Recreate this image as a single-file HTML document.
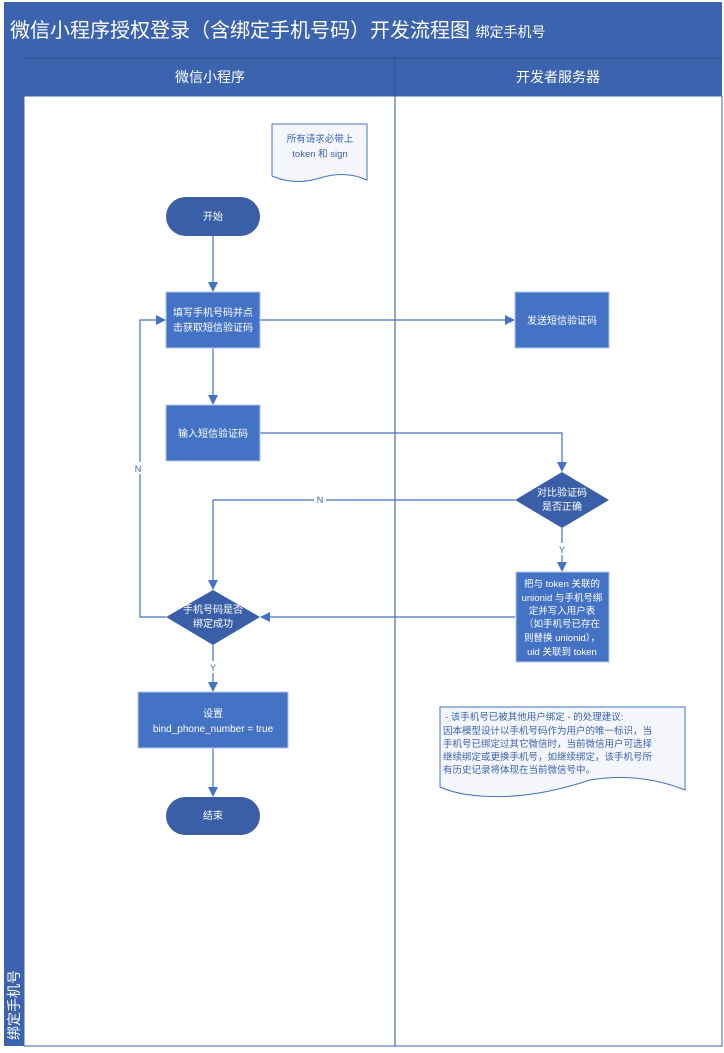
<!DOCTYPE html>
<html><head><meta charset="utf-8"><style>
html,body{margin:0;padding:0;background:#fff}
svg{display:block}
text{font-family:"Liberation Sans","Noto Sans CJK SC",sans-serif}
</style></head><body>
<svg width="724" height="1053" viewBox="0 0 724 1053" xmlns="http://www.w3.org/2000/svg">
<defs>
<marker id="a" markerWidth="10" markerHeight="10" refX="9" refY="5" orient="auto" markerUnits="userSpaceOnUse"><path d="M0,0 L10,5 L0,10 z" fill="#4472C4"/></marker>
</defs>
<rect x="0" y="0" width="724" height="1053" fill="#fff"/>
<rect x="4" y="2" width="718" height="56" fill="#3C63AE"/>
<text x="10" y="37" font-size="20" fill="#fff">微信小程序授权登录（含绑定手机号码）开发流程图 <tspan font-size="14">绑定手机号</tspan></text>
<rect x="4" y="58" width="20" height="988" fill="#3C63AE"/>
<rect x="24" y="58" width="698" height="38" fill="#3C63AE"/>
<line x1="395" y1="58" x2="395" y2="1046" stroke="#2E4F8F" stroke-width="1"/>
<line x1="24" y1="58" x2="722" y2="58" stroke="#2E4F8F"/>
<text x="210" y="82" font-size="14" fill="#fff" text-anchor="middle">微信小程序</text>
<text x="558" y="82" font-size="14" fill="#fff" text-anchor="middle">开发者服务器</text>
<rect x="24" y="96" width="698" height="950" fill="none" stroke="#3C63AE"/>
<text transform="translate(19,1040) rotate(-90)" font-size="14" fill="#fff">绑定手机号</text>

<!-- note 1 -->
<path d="M272,124 H367 V180 Q345,170 320,178 Q295,186 272,176 Z" fill="#F4F6FC" stroke="#4472C4"/>
<text x="320" y="142" font-size="9.5" fill="#3C63AE" text-anchor="middle">所有请求必带上</text>
<text x="320" y="157" font-size="9.5" fill="#3C63AE" text-anchor="middle">token 和 sign</text>

<g stroke="#4472C4" stroke-width="1.2" fill="none">
<line x1="213" y1="236" x2="213" y2="291" marker-end="url(#a)"/>
<line x1="260" y1="320" x2="514" y2="320" marker-end="url(#a)"/>
<line x1="213" y1="348" x2="213" y2="404" marker-end="url(#a)"/>
<polyline points="260,433 562,433 562,471" marker-end="url(#a)"/>
<polyline points="515,500 213,500 213,589" marker-end="url(#a)"/>
<line x1="562" y1="528" x2="562" y2="571" marker-end="url(#a)"/>
<line x1="515" y1="617" x2="261" y2="617" marker-end="url(#a)"/>
<polyline points="166,617 140,617 140,320 165,320" marker-end="url(#a)"/>
<line x1="213" y1="645" x2="213" y2="691" marker-end="url(#a)"/>
<line x1="213" y1="748" x2="213" y2="796" marker-end="url(#a)"/>
</g>
<g font-size="9" fill="#3C63AE" text-anchor="middle">
<rect x="314" y="493" width="12" height="12" fill="#fff"/><text x="320" y="503">N</text>
<rect x="132" y="462" width="12" height="12" fill="#fff"/><text x="138" y="472">N</text>
<rect x="556" y="543" width="12" height="12" fill="#fff"/><text x="562" y="553">Y</text>
<rect x="207" y="661" width="12" height="12" fill="#fff"/><text x="213" y="671">Y</text>
</g>

<rect x="166" y="197" width="94" height="39" rx="19.5" fill="#3A5FA8"/>
<text x="213" y="220" font-size="10" fill="#fff" text-anchor="middle">开始</text>

<rect x="166" y="292" width="94" height="56" fill="#4472C4" stroke="#B4C7E7"/>
<text x="213" y="316" font-size="10" fill="#fff" text-anchor="middle">填写手机号码并点</text>
<text x="213" y="331" font-size="10" fill="#fff" text-anchor="middle">击获取短信验证码</text>

<rect x="515" y="292" width="94" height="56" fill="#4472C4" stroke="#B4C7E7"/>
<text x="562" y="324" font-size="10" fill="#fff" text-anchor="middle">发送短信验证码</text>

<rect x="166" y="405" width="94" height="56" fill="#4472C4" stroke="#B4C7E7"/>
<text x="213" y="437" font-size="10" fill="#fff" text-anchor="middle">输入短信验证码</text>

<polygon points="562,472 609,500 562,528 515,500" fill="#3A5FA8"/>
<text x="562" y="496" font-size="10" fill="#fff" text-anchor="middle">对比验证码</text>
<text x="562" y="510" font-size="10" fill="#fff" text-anchor="middle">是否正确</text>

<rect x="516" y="572" width="93" height="90" fill="#4472C4" stroke="#B4C7E7"/>
<g font-size="9.5" fill="#fff" text-anchor="middle">
<text x="562" y="587">把与 token 关联的</text>
<text x="562" y="601">unionid 与手机号绑</text>
<text x="562" y="614">定并写入用户表</text>
<text x="562" y="627">（如手机号已存在</text>
<text x="562" y="641">则替换 unionid），</text>
<text x="562" y="655">uid 关联到 token</text>
</g>

<polygon points="213,590 260,617 213,645 166,617" fill="#3A5FA8"/>
<text x="213" y="613" font-size="10" fill="#fff" text-anchor="middle">手机号码是否</text>
<text x="213" y="627" font-size="10" fill="#fff" text-anchor="middle">绑定成功</text>

<rect x="138" y="692" width="150" height="56" fill="#4472C4" stroke="#B4C7E7"/>
<text x="213" y="717" font-size="10" fill="#fff" text-anchor="middle">设置</text>
<text x="213" y="732" font-size="10" fill="#fff" text-anchor="middle">bind_phone_number = true</text>

<rect x="166" y="797" width="94" height="38" rx="19" fill="#3A5FA8"/>
<text x="213" y="819" font-size="10" fill="#fff" text-anchor="middle">结束</text>

<path d="M440,707 H685 V790 Q640,772 590,780 Q530,800 480,796 Q455,794 440,787 Z" fill="#F4F6FC" stroke="#4472C4"/>
<g font-size="9.5" fill="#3C63AE">
<text x="445" y="720">- 该手机号已被其他用户绑定 - 的处理建议:</text>
<text x="443" y="734">因本模型设计以手机号码作为用户的唯一标识，当</text>
<text x="443" y="747">手机号已绑定过其它微信时，当前微信用户可选择</text>
<text x="443" y="760">继续绑定或更换手机号，如继续绑定，该手机号所</text>
<text x="443" y="773">有历史记录将体现在当前微信号中。</text>
</g>
</svg>
</body></html>
